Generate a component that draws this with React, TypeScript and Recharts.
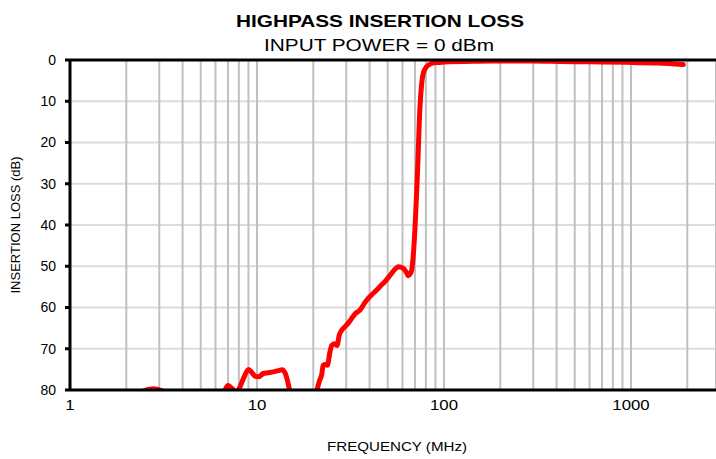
import { CartesianGrid, Label, Line, LineChart, ReferenceLine, XAxis, YAxis } from 'recharts';

// frequency (MHz) and insertion loss (dB)
const freqMHz = [
  1, 1.5, 2, 2.3, 2.45, 2.8, 3.15, 3.4, 4, 5, 6, 6.5, 6.75, 7.0, 7.3, 7.75, 8.1, 8.5, 9.0, 9.4, 9.8, 10.2,
  10.8, 11.5, 12.2, 13.0, 13.6, 14.1, 14.6, 15.0, 16, 18, 20, 20.9, 21.5, 22.2, 22.6, 23.2, 23.8, 24.5,
  25.1, 25.9, 26.8, 27.5, 28.4, 29.5, 31, 33.5, 35.6, 37.5, 39.4, 42, 45.5, 49, 52.5, 55, 57, 60.6, 63,
  64.4, 66, 67.2, 69.4, 72.1, 74.4, 76, 77.5, 80.8, 85.9, 92, 100, 150, 200, 300, 417, 600, 948, 1400, 1905,
];
const lossDb = [
  90, 88, 85, 81.5, 80.3, 79.7, 80.3, 82, 88, 90, 86, 82, 80, 78.9, 79.5, 80.5, 79.3, 77, 75.0, 75.8, 76.7, 76.8,
  76.0, 75.8, 75.6, 75.3, 75.1, 75.8, 78, 80.5, 86, 88, 84, 80.2, 78, 76.2, 74.0, 73.8, 74.0, 71,
  69.2, 68.8, 69.2, 66.8, 65.5, 64.7, 63.6, 61.5, 60.6, 59.0, 57.7, 56.5, 54.9, 53.4, 51.7, 50.6, 50.1, 50.5, 51.5,
  52.3, 51.8, 50.9, 43.6, 27.5, 11.3, 5.7, 3.2, 1.6, 0.8, 0.6, 0.5, 0.3, 0.25, 0.25, 0.36, 0.45, 0.56, 0.75, 1.1,
];

const decadeTicks = [1, 10, 100, 1000];
const freqTicks = [1, 2, 3, 4, 5, 6, 7, 8, 9, 10, 20, 30, 40, 50, 60, 70, 80, 90, 100, 200, 300, 400, 500, 600, 700, 800, 900, 1000, 2000];
const lossTicks = [0, 10, 20, 30, 40, 50, 60, 70, 80];

const FONT = '"Liberation Sans", Arial, sans-serif';
// the original image is a bit wider than tall, so horizontal texts are stretched
const STRETCH = 1.2;

function FreqTick(props: any) {
  const { x, y, payload } = props;
  const v = payload.value as number;
  if (!decadeTicks.includes(v)) return null;
  const s = String(v);
  return (
    <text x={x} y={y + 14} textAnchor="middle" fontFamily={FONT} fontSize={14} fill="#000"
      textLength={s.length * 0.556 * 14 * STRETCH} lengthAdjust="spacingAndGlyphs">
      {s}
    </text>
  );
}

function FreqLabel(props: any) {
  const vb = props.viewBox;
  return (
    <text x={vb.x + vb.width / 2 + 4} y={451} textAnchor="middle" fontFamily={FONT} fontSize={13} fill="#000"
      textLength={140} lengthAdjust="spacingAndGlyphs">
      FREQUENCY (MHz)
    </text>
  );
}

export default function App() {
  const data = freqMHz.map((f, i) => ({ freq: f, loss: lossDb[i] }));

  return (
    <div style={{ position: 'absolute', left: 0, top: 0, width: 716, height: 459, overflow: 'hidden', background: '#fff', fontFamily: FONT }}>
      <LineChart width={716} height={459} data={data} margin={{ top: 60, right: 0, bottom: 0, left: 0 }}>
        <CartesianGrid horizontal={true} vertical={false} stroke="#dcdcdc" strokeWidth={2} />
        <CartesianGrid horizontal={false} vertical={true} stroke="#c0c0c0" strokeWidth={2} />
        <XAxis
          dataKey="freq"
          type="number"
          scale="log"
          domain={[1, 2848]}
          ticks={freqTicks}
          interval={0}
          tickLine={false}
          tickMargin={0}
          axisLine={{ stroke: '#000', strokeWidth: 3 }}
          tick={<FreqTick />}
          height={69}
        >
          <Label content={<FreqLabel />} />
        </XAxis>
        <YAxis
          type="number"
          reversed
          domain={[0, 80]}
          allowDataOverflow
          ticks={lossTicks}
          interval={0}
          width={70}
          tickSize={5}
          tickMargin={9}
          tickLine={{ stroke: '#000', strokeWidth: 3 }}
          axisLine={{ stroke: '#000', strokeWidth: 3 }}
          tick={{ fontSize: 14, fill: '#000', fontFamily: FONT }}
        >
          <Label value="INSERTION LOSS (dB)" angle={-90} position="insideLeft" offset={15} style={{ textAnchor: 'middle', fontSize: 13, fill: '#000', fontFamily: FONT }} />
        </YAxis>
        <Line
          type="monotone"
          dataKey="loss"
          stroke="#ff0000"
          strokeWidth={5}
          strokeLinecap="round"
          strokeLinejoin="round"
          dot={false}
          activeDot={false}
          isAnimationActive={false}
        />
        <ReferenceLine y={0} stroke="#000" strokeWidth={3} />
      </LineChart>
      <svg width={716} height={60} style={{ position: 'absolute', left: 0, top: 0, pointerEvents: 'none' }}>
        <text x={380} y={27} textAnchor="middle" fontFamily={FONT} fontWeight="bold" fontSize={17} textLength={288} lengthAdjust="spacingAndGlyphs">
          HIGHPASS INSERTION LOSS
        </text>
        <text x={379} y={51} textAnchor="middle" fontFamily={FONT} fontSize={16.5} textLength={230} lengthAdjust="spacingAndGlyphs">
          INPUT POWER = 0 dBm
        </text>
      </svg>
    </div>
  );
}
